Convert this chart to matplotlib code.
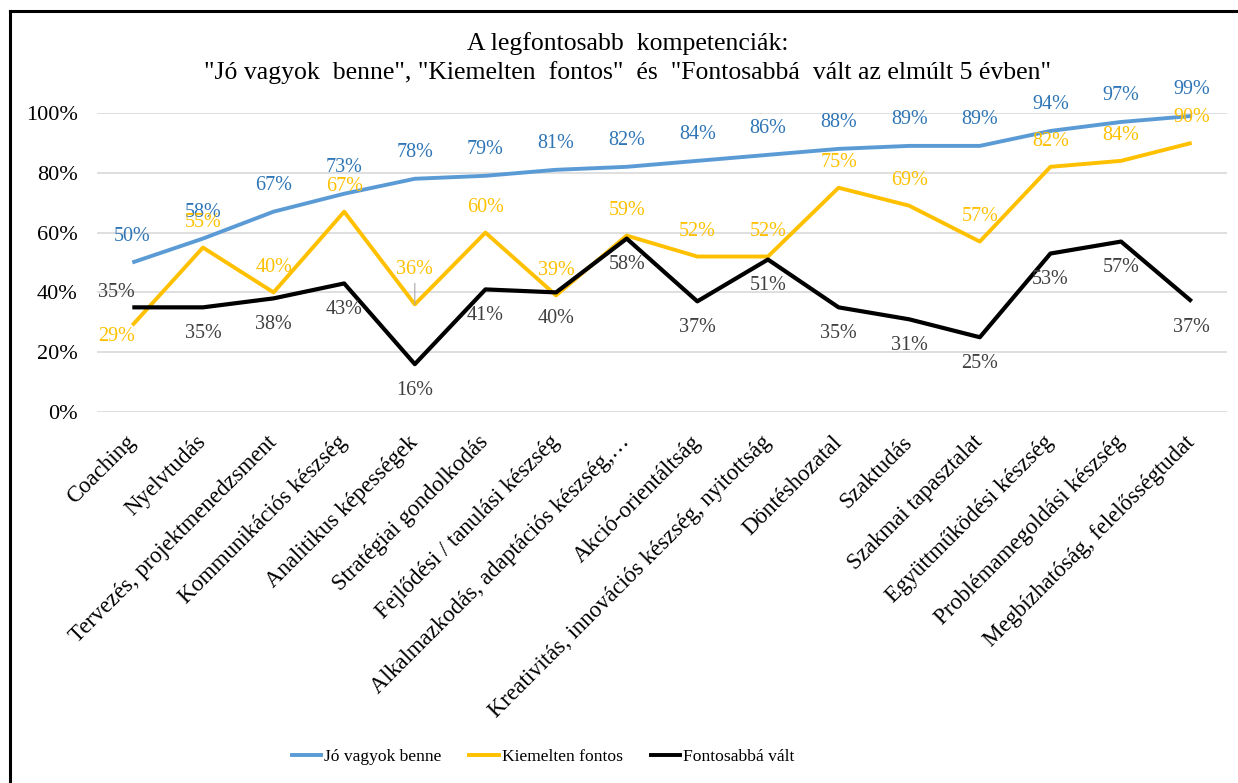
import matplotlib
matplotlib.use("Agg")
import matplotlib.pyplot as plt
import matplotlib.transforms as mtrans
from matplotlib.lines import Line2D
from matplotlib.ticker import FuncFormatter, MultipleLocator

categories = [
    "Coaching", "Nyelvtudás", "Tervezés, projektmenedzsment",
    "Kommunikációs készség", "Analitikus képességek", "Stratégiai gondolkodás",
    "Fejlődési / tanulási készség", "Alkalmazkodás, adaptációs készség,…",
    "Akció-orientáltság", "Kreativitás, innovációs készség, nyitottság",
    "Döntéshozatal", "Szaktudás", "Szakmai tapasztalat",
    "Együttműködési készség", "Problémamegoldási készség",
    "Megbízhatóság, felelősségtudat",
]
jo_vagyok = [50, 58, 67, 73, 78, 79, 81, 82, 84, 86, 88, 89, 89, 94, 97, 99]
kiemelten = [29, 55, 40, 67, 36, 60, 39, 59, 52, 52, 75, 69, 57, 82, 84, 90]
fontosabba = [35, 35, 38, 43, 16, 41, 40, 58, 37, 51, 35, 31, 25, 53, 57, 37]
series_names = ["Jó vagyok benne", "Kiemelten fontos", "Fontosabbá vált"]
title_text = ('A legfontosabb  kompetenciák:\n'
              '"Jó vagyok  benne", "Kiemelten  fontos"  és  "Fontosabbá  vált az elmúlt 5 évben"')

plt.rcParams['font.family'] = ['Liberation Serif', 'DejaVu Serif']

W, H = 1238, 783
fig = plt.figure(figsize=(W / 100, H / 100), dpi=100)
fig.patch.set_facecolor('white')

left_px, right_px = 97, 1227
top_px, bot_px = 113, 412
ax = fig.add_axes([left_px / W, 1 - bot_px / H, (right_px - left_px) / W, (bot_px - top_px) / H])

x = list(range(len(categories)))
blue_line, blue_txt = '#5B9BD5', '#2E75B6'
yel_line, yel_txt = '#FFC000', '#FFC000'
blk_line, blk_txt = '#000000', '#404040'

ax.plot(x, jo_vagyok, color=blue_line, lw=2.8, solid_capstyle='butt', zorder=3)
ax.plot(x, kiemelten, color=yel_line, lw=2.8, solid_capstyle='butt', zorder=3)
ax.plot(x, fontosabba, color=blk_line, lw=3.0, solid_capstyle='butt', zorder=3)

ax.set_xlim(-0.5, len(categories) - 0.5)
ax.set_ylim(0, 100)
ax.yaxis.set_major_locator(MultipleLocator(20))
ax.yaxis.set_major_formatter(FuncFormatter(lambda v, p: f"{int(round(v))}%"))
ax.grid(axis='y', color='#D9D9D9', lw=1.2, zorder=0)
ax.set_axisbelow(True)
for s in ax.spines.values():
    s.set_visible(False)
ax.tick_params(axis='y', length=0, pad=14, labelsize=16, labelcolor='#000000')
ax.tick_params(axis='x', length=0, pad=0)
ax.set_xticks(x)
ax.set_xticklabels(categories, rotation=45, ha='right', va='center',
                   rotation_mode='anchor', fontsize=16.5)
offset = mtrans.ScaledTranslation(0, -27 / 100, fig.dpi_scale_trans)
for lbl in ax.get_xticklabels():
    lbl.set_transform(lbl.get_transform() + offset)

PX = 0.72  # pixels -> points


def label(xi, yi, dx_px, dy_px, color):
    ax.annotate(f"{yi}%", (xi, yi), xytext=(dx_px * PX, dy_px * PX),
                textcoords='offset points', ha='center', va='center',
                fontsize=14.5, color=color, zorder=5)


for i, v in enumerate(jo_vagyok):
    label(i, v, 0, 26, blue_txt)

for i, v in enumerate(kiemelten):
    if i == 0:
        label(i, v, -16, -11, yel_txt)
    elif i == 4:
        label(i, v, 0, 35, yel_txt)
        ax.annotate('', (i, v), xytext=(0, 21 * PX), textcoords='offset points',
                    arrowprops=dict(arrowstyle='-', color='#A6A6A6', lw=0.8,
                                    shrinkA=0, shrinkB=0))
    else:
        label(i, v, 0, 25, yel_txt)

for i, v in enumerate(fontosabba):
    if i == 0:
        label(i, v, -16, 15, blk_txt)
    else:
        label(i, v, 0, -26, blk_txt)

fig.text(628 / W, 1 - 58 / H, title_text, ha='center', va='center',
         fontsize=18.5, linespacing=1.33, color='#000000')

handles = [Line2D([], [], color=c, lw=2.8) for c in (blue_line, yel_line, blk_line)]
fig.legend(handles, series_names, loc='center', bbox_to_anchor=(543 / W, 1 - 757 / H),
           ncol=3, frameon=False, fontsize=12.6, handlelength=1.7, handletextpad=0.15,
           columnspacing=1.6)

fig.add_artist(Line2D([10 / W, 1], [1 - 11 / H, 1 - 11 / H], color='#000000', lw=2.2,
                      transform=fig.transFigure))
fig.add_artist(Line2D([10 / W, 10 / W], [0, 1 - 11 / H], color='#000000', lw=2.2,
                      transform=fig.transFigure))

fig.savefig('out.png', dpi=100, facecolor='white')
